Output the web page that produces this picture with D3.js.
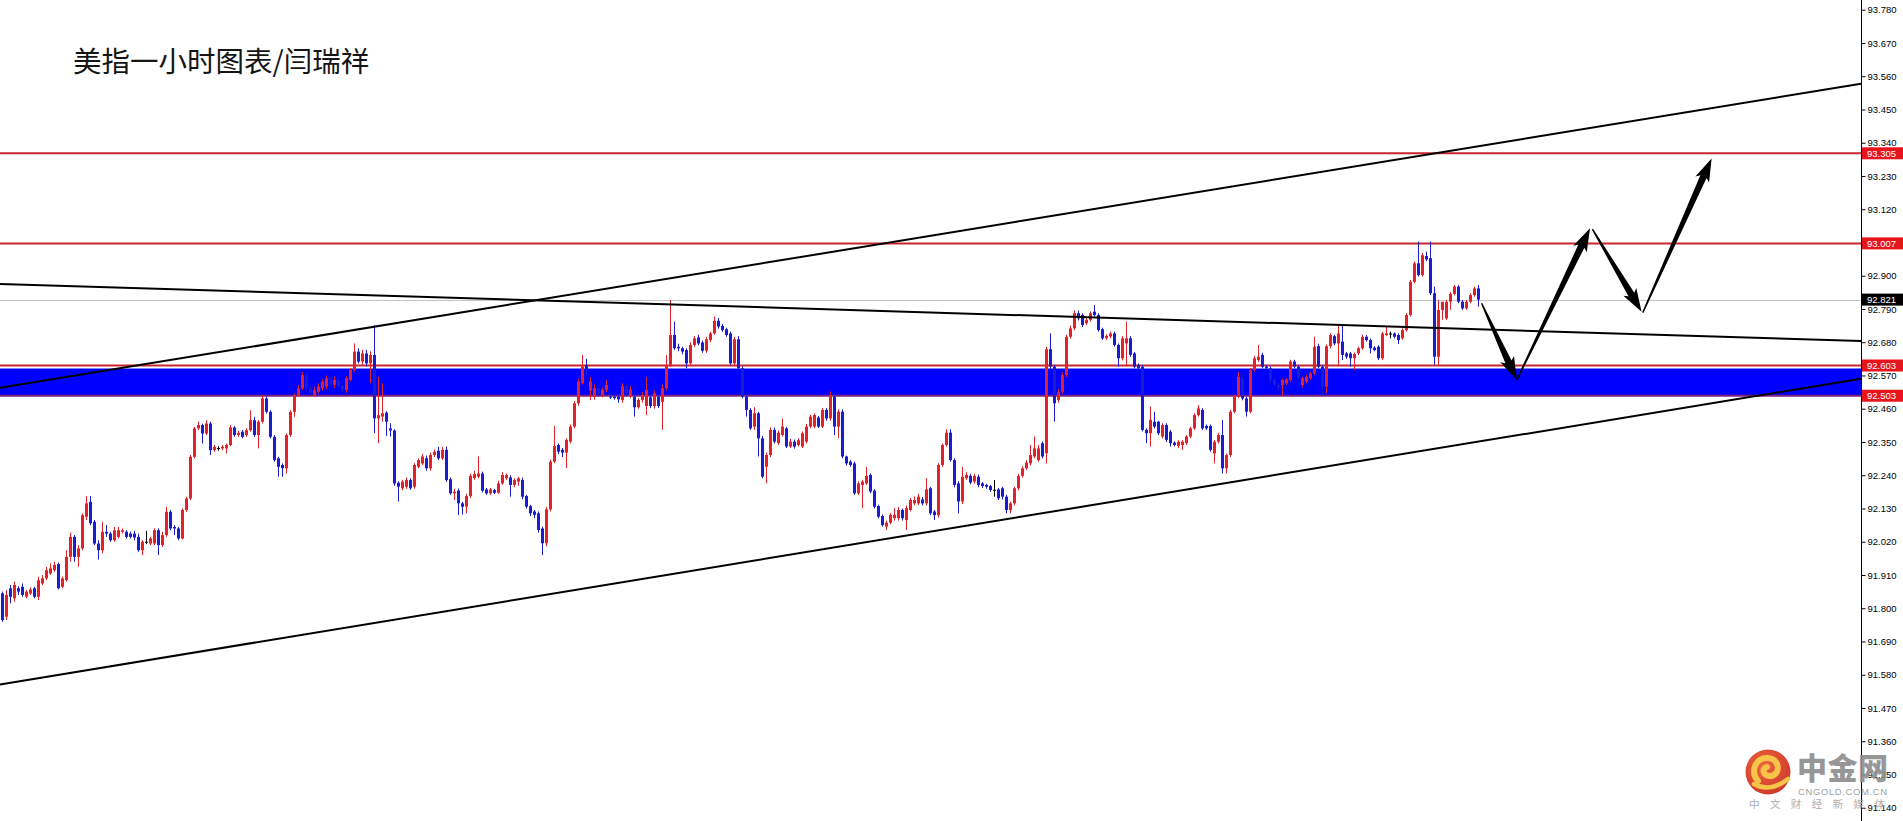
<!DOCTYPE html>
<html><head><meta charset="utf-8">
<script src="https://cdn.jsdelivr.net/npm/d3@7"></script>
<style>html,body{margin:0;padding:0;background:#fff;overflow:hidden}</style>
</head><body>
<svg id="chart" width="1903" height="821"></svg>
<script>
const opens = [
91.849,91.772,91.866,91.833,91.866,91.871,91.838,91.849,91.866,91.838,
91.882,91.899,91.915,91.926,91.946,91.871,91.893,91.970,92.036,91.970,
91.998,92.103,92.152,92.086,92.014,91.992,92.053,92.047,92.025,92.036,
92.053,92.053,92.047,92.047,92.036,91.992,92.020,92.014,92.014,92.058,
92.009,92.042,92.119,92.069,92.064,92.031,92.125,92.163,92.301,92.395,
92.406,92.378,92.411,92.323,92.330,92.329,92.329,92.340,92.398,92.373,
92.384,92.373,92.389,92.422,92.373,92.417,92.494,92.450,92.367,92.296,
92.274,92.263,92.373,92.450,92.505,92.527,92.571,92.527,92.505,92.516,
92.528,92.533,92.561,92.539,92.555,92.535,92.522,92.555,92.588,92.649,
92.616,92.643,92.610,92.638,92.428,92.434,92.447,92.395,92.388,92.215,
92.197,92.202,92.224,92.202,92.268,92.279,92.296,92.263,92.307,92.321,
92.296,92.324,92.227,92.180,92.189,92.147,92.136,92.171,92.230,92.235,
92.246,92.193,92.180,92.191,92.182,92.213,92.230,92.233,92.208,92.219,
92.224,92.171,92.138,92.120,92.114,92.064,92.015,92.127,92.285,92.340,
92.324,92.315,92.351,92.401,92.478,92.544,92.605,92.520,92.500,92.528,
92.505,92.522,92.500,92.500,92.500,92.489,92.535,92.500,92.500,92.465,
92.489,92.469,92.498,92.469,92.500,92.483,92.528,92.605,92.704,92.665,
92.660,92.654,92.610,92.671,92.696,92.679,92.652,92.687,92.709,92.751,
92.734,92.723,92.709,92.610,92.690,92.594,92.500,92.456,92.401,92.445,
92.362,92.268,92.307,92.390,92.346,92.373,92.395,92.335,92.351,92.340,
92.335,92.351,92.401,92.401,92.431,92.401,92.456,92.428,92.500,92.401,
92.450,92.302,92.285,92.279,92.180,92.208,92.213,92.241,92.189,92.138,
92.105,92.070,92.083,92.098,92.098,92.125,92.092,92.125,92.147,92.147,
92.160,92.147,92.197,92.120,92.108,92.274,92.340,92.381,92.290,92.213,
92.153,92.230,92.238,92.219,92.235,92.213,92.208,92.204,92.192,92.193,
92.197,92.169,92.125,92.147,92.197,92.238,92.263,92.279,92.302,92.290,
92.346,92.313,92.657,92.599,92.489,92.516,92.572,92.698,92.726,92.776,
92.770,92.743,92.754,92.781,92.770,92.723,92.693,92.699,92.709,92.671,
92.627,92.676,92.693,92.643,92.605,92.599,92.390,92.379,92.417,92.417,
92.368,92.406,92.384,92.348,92.337,92.340,92.346,92.368,92.395,92.439,
92.456,92.403,92.403,92.312,92.351,92.373,92.263,92.307,92.450,92.500,
92.560,92.494,92.450,92.588,92.621,92.638,92.599,92.594,92.555,92.540,
92.538,92.544,92.555,92.616,92.599,92.538,92.549,92.561,92.577,92.667,
92.599,92.533,92.667,92.700,92.676,92.682,92.643,92.643,92.627,92.643,
92.660,92.698,92.687,92.662,92.665,92.627,92.704,92.709,92.709,92.704,
92.693,92.720,92.770,92.880,92.941,92.902,92.965,92.958,92.842,92.632,
92.787,92.759,92.814,92.840,92.864,92.814,92.792,92.814,92.836,92.858
];
const highs = [
91.855,91.860,91.877,91.888,91.873,91.882,91.860,91.869,91.871,91.904,
91.910,91.937,91.948,91.954,91.951,91.904,91.992,92.050,92.042,92.009,
92.114,92.171,92.171,92.092,92.025,92.086,92.075,92.053,92.069,92.069,
92.064,92.058,92.053,92.056,92.047,92.025,92.056,92.036,92.064,92.064,
92.053,92.136,92.125,92.075,92.069,92.130,92.169,92.307,92.400,92.417,
92.411,92.422,92.417,92.340,92.336,92.340,92.345,92.406,92.402,92.387,
92.389,92.395,92.455,92.433,92.422,92.505,92.500,92.455,92.373,92.301,
92.279,92.378,92.455,92.511,92.538,92.582,92.580,92.535,92.533,92.544,
92.558,92.570,92.565,92.566,92.560,92.540,92.568,92.595,92.676,92.660,
92.655,92.655,92.650,92.737,92.566,92.544,92.452,92.412,92.392,92.220,
92.225,92.232,92.230,92.280,92.296,92.310,92.305,92.315,92.325,92.334,
92.334,92.335,92.232,92.195,92.196,92.152,92.178,92.245,92.255,92.302,
92.252,92.198,92.198,92.195,92.222,92.250,92.246,92.240,92.230,92.235,
92.232,92.175,92.142,92.125,92.120,92.070,92.135,92.292,92.403,92.345,
92.330,92.362,92.408,92.485,92.560,92.638,92.625,92.565,92.540,92.535,
92.530,92.555,92.510,92.505,92.505,92.544,92.540,92.535,92.505,92.495,
92.515,92.564,92.505,92.520,92.505,92.540,92.638,92.820,92.748,92.675,
92.665,92.660,92.680,92.700,92.705,92.685,92.698,92.715,92.765,92.760,
92.740,92.728,92.715,92.698,92.700,92.600,92.505,92.462,92.465,92.450,
92.370,92.315,92.398,92.398,92.388,92.428,92.400,92.360,92.358,92.362,
92.385,92.410,92.440,92.445,92.436,92.462,92.462,92.517,92.510,92.458,
92.458,92.305,92.290,92.285,92.220,92.225,92.268,92.246,92.194,92.142,
92.110,92.090,92.115,92.131,92.135,92.130,92.140,92.165,92.170,92.178,
92.168,92.230,92.202,92.125,92.280,92.345,92.392,92.392,92.296,92.220,
92.268,92.250,92.245,92.245,92.242,92.218,92.212,92.208,92.224,92.198,
92.202,92.175,92.152,92.202,92.245,92.270,92.290,92.340,92.368,92.340,
92.352,92.665,92.709,92.605,92.525,92.580,92.705,92.735,92.785,92.785,
92.776,92.760,92.782,92.803,92.776,92.728,92.706,92.715,92.715,92.676,
92.700,92.748,92.700,92.648,92.610,92.605,92.395,92.467,92.450,92.420,
92.412,92.412,92.390,92.352,92.356,92.356,92.373,92.400,92.445,92.472,
92.462,92.408,92.408,92.356,92.380,92.423,92.312,92.456,92.505,92.582,
92.575,92.500,92.595,92.635,92.671,92.645,92.605,92.600,92.560,92.545,
92.560,92.562,92.622,92.622,92.605,92.566,92.572,92.582,92.698,92.675,
92.605,92.672,92.710,92.705,92.737,92.737,92.648,92.648,92.646,92.665,
92.705,92.704,92.692,92.667,92.670,92.715,92.731,92.715,92.712,92.709,
92.726,92.776,92.886,92.947,93.013,92.975,92.980,93.013,92.864,92.820,
92.809,92.820,92.846,92.869,92.869,92.820,92.820,92.842,92.864,92.869
];
const lows = [
91.755,91.761,91.816,91.822,91.844,91.838,91.833,91.844,91.833,91.827,
91.877,91.893,91.910,91.921,91.862,91.866,91.888,91.954,91.954,91.937,
91.992,92.092,92.075,92.009,91.961,91.981,92.036,92.020,92.020,92.031,
92.047,92.031,92.031,92.025,91.987,91.976,92.012,92.009,92.009,91.976,
92.003,92.036,92.058,92.042,92.025,92.028,92.119,92.158,92.296,92.389,
92.345,92.373,92.307,92.318,92.321,92.323,92.312,92.336,92.367,92.367,
92.362,92.367,92.384,92.367,92.329,92.411,92.444,92.362,92.285,92.235,
92.235,92.246,92.367,92.433,92.500,92.522,92.515,92.505,92.500,92.511,
92.520,92.525,92.535,92.528,92.530,92.515,92.513,92.550,92.582,92.610,
92.605,92.600,92.544,92.379,92.346,92.417,92.370,92.368,92.205,92.153,
92.190,92.195,92.192,92.195,92.263,92.274,92.255,92.255,92.300,92.290,
92.290,92.218,92.175,92.158,92.108,92.110,92.114,92.165,92.225,92.230,
92.183,92.175,92.175,92.178,92.178,92.208,92.225,92.169,92.200,92.205,
92.160,92.130,92.105,92.098,92.050,91.976,92.005,92.120,92.280,92.310,
92.300,92.263,92.345,92.395,92.470,92.540,92.570,92.489,92.490,92.500,
92.498,92.515,92.492,92.490,92.480,92.480,92.500,92.495,92.434,92.460,
92.480,92.439,92.462,92.460,92.462,92.390,92.520,92.598,92.655,92.650,
92.640,92.594,92.605,92.665,92.670,92.645,92.645,92.680,92.705,92.725,
92.715,92.698,92.605,92.600,92.590,92.495,92.434,92.390,92.390,92.302,
92.230,92.213,92.300,92.345,92.340,92.368,92.330,92.330,92.328,92.335,
92.330,92.345,92.395,92.395,92.396,92.396,92.420,92.420,92.373,92.362,
92.296,92.272,92.268,92.175,92.175,92.131,92.208,92.180,92.130,92.098,
92.070,92.059,92.078,92.090,92.090,92.090,92.059,92.120,92.140,92.142,
92.140,92.140,92.108,92.092,92.100,92.268,92.335,92.285,92.200,92.114,
92.145,92.225,92.210,92.212,92.200,92.198,92.195,92.185,92.169,92.158,
92.160,92.114,92.114,92.140,92.190,92.232,92.258,92.272,92.296,92.285,
92.296,92.279,92.590,92.417,92.480,92.510,92.565,92.692,92.720,92.752,
92.730,92.737,92.748,92.765,92.715,92.688,92.688,92.693,92.665,92.599,
92.620,92.600,92.632,92.594,92.588,92.385,92.346,92.335,92.395,92.373,
92.362,92.350,92.335,92.335,92.330,92.324,92.340,92.362,92.390,92.434,
92.390,92.390,92.318,92.279,92.345,92.246,92.246,92.300,92.445,92.495,
92.488,92.434,92.445,92.582,92.615,92.594,92.588,92.544,92.535,92.520,
92.505,92.538,92.550,92.594,92.555,92.530,92.544,92.555,92.572,92.594,
92.505,92.511,92.660,92.670,92.605,92.621,92.625,92.599,92.588,92.638,
92.655,92.682,92.643,92.650,92.621,92.621,92.700,92.693,92.693,92.674,
92.688,92.715,92.765,92.875,92.897,92.897,92.948,92.836,92.605,92.605,
92.754,92.754,92.787,92.835,92.809,92.787,92.787,92.809,92.830,92.798
];
const closes = [
91.761,91.844,91.838,91.877,91.855,91.844,91.855,91.862,91.838,91.893,
91.899,91.926,91.932,91.943,91.866,91.899,91.970,92.036,91.970,91.998,
92.108,92.147,92.081,92.014,91.992,92.053,92.047,92.025,92.058,92.058,
92.058,92.036,92.036,92.034,91.992,92.020,92.020,92.031,92.058,92.009,
92.042,92.119,92.064,92.064,92.031,92.125,92.163,92.301,92.395,92.406,
92.378,92.411,92.323,92.334,92.330,92.334,92.340,92.398,92.373,92.380,
92.367,92.389,92.422,92.373,92.417,92.494,92.450,92.367,92.290,92.268,
92.263,92.373,92.450,92.505,92.527,92.571,92.527,92.512,92.522,92.533,
92.550,92.561,92.540,92.555,92.535,92.525,92.561,92.588,92.649,92.616,
92.643,92.610,92.638,92.428,92.439,92.445,92.417,92.388,92.213,92.202,
92.219,92.224,92.197,92.274,92.290,92.302,92.263,92.307,92.318,92.296,
92.324,92.224,92.180,92.186,92.147,92.136,92.171,92.238,92.244,92.246,
92.189,92.180,92.193,92.182,92.213,92.241,92.241,92.208,92.224,92.230,
92.169,92.136,92.114,92.109,92.059,92.015,92.127,92.285,92.337,92.318,
92.315,92.357,92.401,92.478,92.550,92.599,92.588,92.550,92.528,92.510,
92.524,92.539,92.498,92.495,92.491,92.535,92.510,92.524,92.465,92.489,
92.505,92.522,92.469,92.511,92.469,92.528,92.605,92.704,92.660,92.660,
92.649,92.610,92.671,92.693,92.676,92.652,92.690,92.709,92.751,92.732,
92.720,92.704,92.610,92.690,92.594,92.500,92.456,92.395,92.445,92.362,
92.235,92.307,92.390,92.351,92.381,92.401,92.335,92.351,92.335,92.356,
92.379,92.401,92.434,92.439,92.401,92.456,92.428,92.505,92.401,92.450,
92.302,92.279,92.274,92.180,92.213,92.219,92.238,92.186,92.136,92.103,
92.075,92.083,92.109,92.109,92.125,92.098,92.131,92.158,92.158,92.169,
92.147,92.193,92.114,92.108,92.274,92.340,92.381,92.290,92.208,92.153,
92.235,92.241,92.216,92.238,92.208,92.204,92.202,92.191,92.192,92.164,
92.169,92.125,92.147,92.197,92.238,92.263,92.282,92.307,92.329,92.329,
92.302,92.657,92.599,92.478,92.516,92.572,92.698,92.726,92.776,92.759,
92.737,92.754,92.776,92.770,92.720,92.693,92.701,92.709,92.671,92.627,
92.693,92.693,92.638,92.599,92.594,92.390,92.379,92.423,92.401,92.379,
92.406,92.357,92.346,92.340,92.351,92.351,92.368,92.395,92.439,92.461,
92.395,92.395,92.324,92.351,92.373,92.263,92.307,92.450,92.500,92.566,
92.494,92.450,92.588,92.627,92.632,92.599,92.594,92.555,92.540,92.530,
92.555,92.557,92.616,92.599,92.561,92.561,92.566,92.577,92.665,92.599,
92.533,92.667,92.704,92.676,92.709,92.638,92.632,92.627,92.641,92.660,
92.698,92.687,92.660,92.654,92.627,92.709,92.709,92.709,92.698,92.687,
92.720,92.770,92.880,92.941,92.902,92.968,92.954,92.842,92.632,92.787,
92.814,92.814,92.840,92.864,92.814,92.792,92.814,92.836,92.858,92.821
];
const yTicks = [93.780,93.670,93.560,93.450,93.340,93.230,93.120,93.010,92.900,92.790,92.680,92.570,
  92.460,92.350,92.240,92.130,92.020,91.910,91.800,91.690,91.580,91.470,91.360,91.250,91.140];
const resistanceLevels = [93.305, 93.007];
const zoneLevels = [92.603, 92.503];
const lastPrice = [92.821];
const priceDomain = [91.0962, 93.8121];
// trendlines: [[candleIndex, price], [candleIndex, price]]
const trendUpper = [[-0.5, 92.529], [464.75, 93.535]];
const trendFalling = [[-0.5, 92.873], [464.75, 92.684]];
const trendLower = [[-0.5, 91.548], [464.75, 92.559]];
// forecast arrows: [candleIndex, price] start -> end
const arrowLegs = [
  [[369.9, 92.809], [378.7, 92.555]],
  [[378.7, 92.555], [397.0, 93.057]],
  [[397.6, 93.054], [409.9, 92.781]],
  [[410.2, 92.778], [427.4, 93.288]]
];
const titleText = "美指一小时图表/闫瑞祥";

const W = 1903, H = 821, axisX = 1861;
const n = opens.length;
const x = d3.scaleLinear().domain([0, n - 1]).range([2, 2 + 4 * (n - 1)]);
const y = d3.scaleLinear().domain(priceDomain).range([H, 0]);
const svg = d3.select('#chart');
svg.append('rect').attr('width', W).attr('height', H).attr('fill', '#fff');
const defs = svg.append('defs');
defs.append('clipPath').attr('id', 'clip')
  .append('rect').attr('x', 0).attr('y', 0).attr('width', axisX).attr('height', H);
const plot = svg.append('g').attr('clip-path', 'url(#clip)');

// blue zone
plot.append('rect').attr('x', 0).attr('width', axisX)
  .attr('y', y(zoneLevels[0]) + 3).attr('height', y(zoneLevels[1]) - y(zoneLevels[0]) - 3)
  .attr('fill', '#0000ff');
// red horizontal levels
plot.selectAll('line.res').data(resistanceLevels.concat([zoneLevels[0]])).join('line')
  .attr('x1', 0).attr('x2', axisX).attr('y1', d => y(d)).attr('y2', d => y(d))
  .attr('stroke', '#c8262c').attr('stroke-width', 2);
plot.append('line').attr('x1', 0).attr('x2', axisX)
  .attr('y1', y(zoneLevels[1])).attr('y2', y(zoneLevels[1]))
  .attr('stroke', '#7e2080').attr('stroke-width', 2);
// last price line
plot.append('line').attr('x1', 0).attr('x2', axisX)
  .attr('y1', Math.round(y(lastPrice[0])) + 0.5).attr('y2', Math.round(y(lastPrice[0])) + 0.5)
  .attr('stroke', '#c4c4c4').attr('stroke-width', 1);

// candles
const candles = d3.range(n).map(i => ({ i, o: opens[i], h: highs[i], l: lows[i], c: closes[i] }));
const col = d => d.c > d.o ? '#e0232b' : (d.c < d.o ? '#1c1ccf' : '#000000');
plot.append('g').selectAll('line').data(candles).join('line')
  .attr('x1', d => x(d.i) + 0.5).attr('x2', d => x(d.i) + 0.5)
  .attr('y1', d => y(d.h)).attr('y2', d => y(d.l))
  .attr('stroke', col).attr('stroke-width', 1);
plot.append('g').selectAll('rect').data(candles).join('rect')
  .attr('x', d => x(d.i) - 1).attr('width', 3)
  .attr('y', d => Math.min(y(d.o), y(d.c)))
  .attr('height', d => Math.max(1, Math.abs(y(d.o) - y(d.c))))
  .attr('fill', col);

// trendlines
plot.selectAll('line.trend').data([trendUpper, trendFalling, trendLower]).join('line')
  .attr('x1', d => x(d[0][0])).attr('y1', d => y(d[0][1]))
  .attr('x2', d => x(d[1][0])).attr('y2', d => y(d[1][1]))
  .attr('stroke', '#000').attr('stroke-width', 2);

// arrows
function arrowPoly(leg) {
  const p0 = [x(leg[0][0]), y(leg[0][1])], p1 = [x(leg[1][0]), y(leg[1][1])];
  const dx = p1[0] - p0[0], dy = p1[1] - p0[1], len = Math.hypot(dx, dy);
  const ux = dx / len, uy = dy / len, nx = -uy, ny = ux;
  const hl = 20, hw = 7.5, sw = 3.4, s0 = 0.7, back = 3;
  const bx = p1[0] - ux * hl, by = p1[1] - uy * hl;
  return [
    [p0[0] + nx * s0, p0[1] + ny * s0],
    [bx + nx * sw, by + ny * sw],
    [bx + nx * hw - ux * back, by + ny * hw - uy * back],
    [p1[0], p1[1]],
    [bx - nx * hw - ux * back, by - ny * hw - uy * back],
    [bx - nx * sw, by - ny * sw],
    [p0[0] - nx * s0, p0[1] - ny * s0]
  ];
}
plot.selectAll('path.arrow').data(arrowLegs).join('path')
  .attr('d', d => 'M' + arrowPoly(d).map(p => p.join(',')).join('L') + 'Z')
  .attr('fill', '#000');

// axis
svg.append('line').attr('x1', axisX + 0.5).attr('x2', axisX + 0.5).attr('y1', 0).attr('y2', H)
  .attr('stroke', '#000').attr('stroke-width', 1);
const axisG = svg.append('g').attr('transform', `translate(${axisX + 0.5},0)`)
  .call(d3.axisRight(y).tickValues(yTicks).tickSize(4).tickSizeOuter(0).tickPadding(2)
    .tickFormat(d3.format('.3f')));
axisG.select('.domain').remove();
axisG.selectAll('text').attr('font-family', '"Liberation Sans", Arial, sans-serif')
  .attr('font-size', '9.5px').attr('fill', '#000');
axisG.selectAll('line').attr('stroke', '#000');

// price tags
const tags = resistanceLevels.concat(zoneLevels).map(v => ({ v, bg: '#e8141c' }))
  .concat(lastPrice.map(v => ({ v, bg: '#000' })));
const tg = svg.append('g').selectAll('g').data(tags).join('g')
  .attr('transform', d => `translate(${axisX + 1},${y(d.v)})`);
tg.append('rect').attr('x', 0).attr('y', -6).attr('width', W - axisX - 1).attr('height', 12)
  .attr('fill', d => d.bg);
tg.append('text').attr('x', 5).attr('y', 0).attr('dy', '0.35em')
  .attr('font-family', '"Liberation Sans", Arial, sans-serif').attr('font-size', '9.5px')
  .attr('fill', '#fff').text(d => d.v.toFixed(3));

// title
svg.append('text').attr('x', 73).attr('y', 72)
  .attr('font-family', '"Noto Sans CJK SC", sans-serif').attr('font-size', '28.5px')
  .attr('fill', '#151515').text(titleText);

// watermark
const wm = svg.append('g').attr('opacity', 0.92);
const rg = defs.append('radialGradient').attr('id', 'logoG')
  .attr('cx', '40%').attr('cy', '35%').attr('r', '70%');
rg.append('stop').attr('offset', '0%').attr('stop-color', '#ee5a2a');
rg.append('stop').attr('offset', '100%').attr('stop-color', '#c8281a');
wm.append('circle').attr('cx', 1768).attr('cy', 772).attr('r', 22.5).attr('fill', 'url(#logoG)');
wm.append('path')
  .attr('d', 'M1758,781 C1750,772 1755,757 1768,758 C1780,759 1781,774 1771,776 C1763,777 1761,768 1767,767')
  .attr('fill', 'none').attr('stroke', '#f6bf3a').attr('stroke-width', 6).attr('stroke-linecap', 'round');
wm.append('path')
  .attr('d', 'M1754,784 Q1770,793 1788,779')
  .attr('fill', 'none').attr('stroke', '#f6bf3a').attr('stroke-width', 4.5).attr('stroke-linecap', 'round');
wm.append('text').attr('x', 1797).attr('y', 779)
  .attr('font-family', '"Noto Sans CJK SC", sans-serif').attr('font-weight', 900)
  .attr('font-size', '30px').attr('fill', '#8f8f8f').attr('textLength', 91).text('中金网');
wm.append('text').attr('x', 1798).attr('y', 794.5)
  .attr('font-family', '"Liberation Sans", Arial, sans-serif').attr('font-size', '9.5px')
  .attr('fill', '#9a9a9a').attr('textLength', 89).attr('lengthAdjust', 'spacing').text('CNGOLD.COM.CN');
wm.append('text').attr('x', 1749).attr('y', 807.5)
  .attr('font-family', '"Noto Sans CJK SC", sans-serif').attr('font-size', '10.5px')
  .attr('fill', '#a8a8a8').attr('textLength', 136).attr('lengthAdjust', 'spacing').text('中文财经新媒体');
</script>
</body></html>
